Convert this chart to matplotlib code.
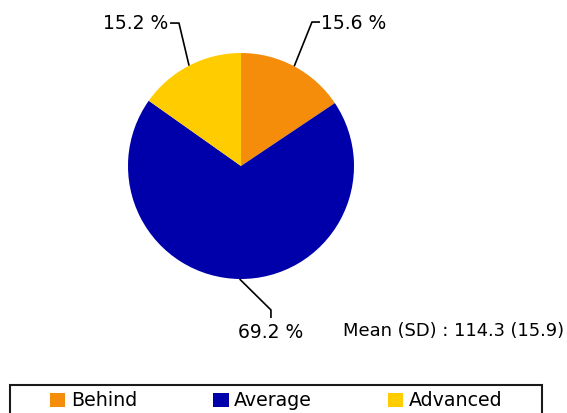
import matplotlib
matplotlib.use("Agg")
import matplotlib.pyplot as plt
import numpy as np
from matplotlib.patches import Patch, Rectangle

categories = ["Behind", "Average", "Advanced"]
shares = [15.6, 69.2, 15.2]
colors = ["#F58C0A", "#0000AA", "#FFCC00"]
mean_sd = (114.3, 15.9)

W, H = 567, 413
fig = plt.figure(figsize=(W / 100, H / 100), dpi=100)

# pie axes: centre (241,166) px, radius 113 px
cx, cy, r = 241, 166, 113
ax = fig.add_axes([(cx - r) / W, 1 - (cy + r) / H, 2 * r / W, 2 * r / H])
ax.pie(shares, colors=colors, startangle=90, counterclock=False,
       radius=1, wedgeprops=dict(linewidth=0))
ax.set_xlim(-1, 1)
ax.set_ylim(-1, 1)
ax.set_axis_off()

# leader lines: elbow / end offsets in radius units, label placement
leaders = [
    dict(elbow=(0.628, 1.274), end=(0.699, 1.274), text=(0.712, 1.265), ha="left", va="center"),
    dict(elbow=(0.265, -1.274), end=(0.265, -1.345), text=(0.265, -1.47), ha="center", va="center"),
    dict(elbow=(-0.549, 1.265), end=(-0.628, 1.265), text=(-0.648, 1.265), ha="right", va="center"),
]

cum = np.cumsum([0] + shares)
for i, val in enumerate(shares):
    mid = (cum[i] + val / 2) / 100 * 2 * np.pi
    ex, ey = np.sin(mid), np.cos(mid)
    L = leaders[i]
    ax.plot([ex, L["elbow"][0], L["end"][0]], [ey, L["elbow"][1], L["end"][1]],
            color="black", lw=1.2, clip_on=False, solid_capstyle="butt")
    ax.text(L["text"][0], L["text"][1], "{:.1f} %".format(val), fontsize=13.5,
            ha=L["ha"], va=L["va"], clip_on=False)

fig.text(343 / W, 1 - 331 / H, "Mean (SD) : {} ({})".format(*mean_sd),
         fontsize=12.9, ha="left", va="center")

# legend box, cut by the bottom edge
fig.patches.append(Rectangle((10 / W, 1 - 430 / H), 532 / W, 45 / H,
                             transform=fig.transFigure, fill=False,
                             edgecolor="#1a1a1a", linewidth=1.5))

handles = [Patch(facecolor=c, edgecolor="none") for c in colors]
fig.legend(handles, categories, loc="center left",
           bbox_to_anchor=(50 / W, 1 - 401 / H), ncol=3, frameon=False,
           fontsize=13.7, handlelength=0.8, handleheight=0.8,
           handletextpad=0.3, columnspacing=4.0, borderpad=0,
           borderaxespad=0)

fig.savefig("out.png", dpi=100)
